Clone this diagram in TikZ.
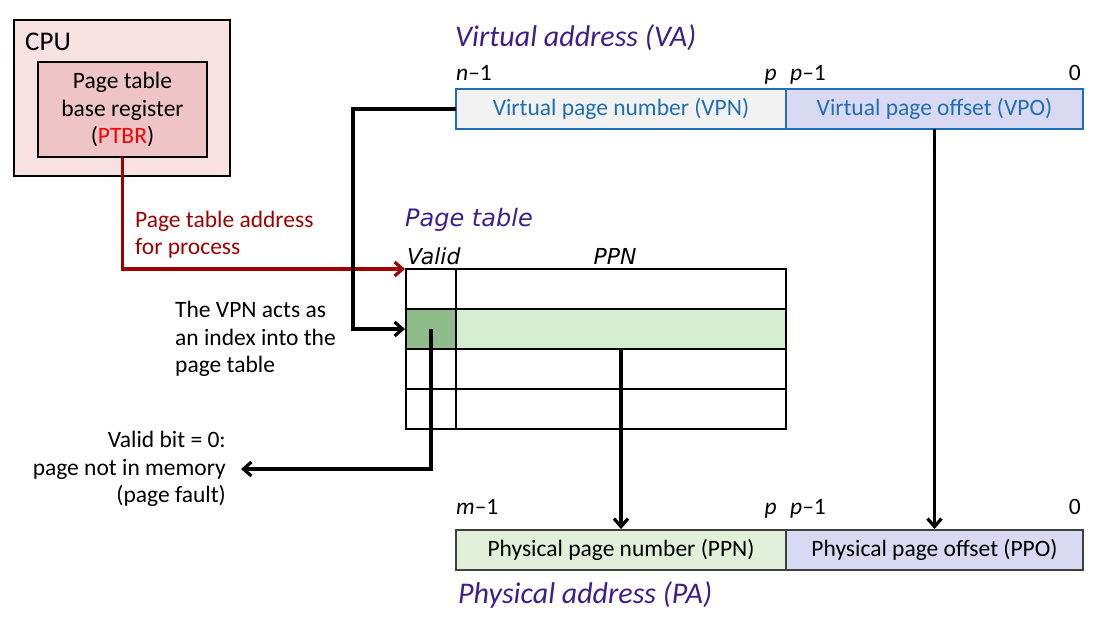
\documentclass[tikz,border=0pt]{standalone}
\usepackage{fontspec}
\setmainfont{Carlito}
\newfontfamily\dvsans{DejaVu Sans}
\usepackage{xcolor}
\usetikzlibrary{arrows.meta}
\usetikzlibrary{positioning}

\definecolor{ttl}{RGB}{60,30,140}
\definecolor{vablue}{RGB}{30,110,185}
\definecolor{addrred}{RGB}{160,0,0}
\definecolor{cpuout}{RGB}{248,225,227}
\definecolor{cpuin}{RGB}{238,196,198}
\definecolor{vpngray}{RGB}{242,242,242}
\definecolor{offlav}{RGB}{217,217,243}
\definecolor{ppngreen}{RGB}{226,240,217}
\definecolor{rowgreen}{RGB}{214,238,208}
\definecolor{validgreen}{RGB}{143,188,139}

\begin{document}
\begin{tikzpicture}[x=1pt,y=-1pt,
  font=\fontsize{23.5}{27.5}\selectfont,
  lbl/.style={inner sep=0pt},
  fld/.style={draw,line width=1.2pt,minimum width=330pt,minimum height=40pt,
    inner sep=0pt,outer sep=0pt},
  cell/.style={draw,line width=1.1pt,minimum height=40pt,inner sep=0pt,outer sep=0pt},
  ttlf/.style={inner sep=0pt,text=ttl,font=\fontsize{30}{34}\selectfont\itshape},
  ptr/.style={line width=3.2pt,shorten >=1pt,-{Straight Barb[length=8pt,width=14pt]}}]
  \useasboundingbox (0,0) rectangle (1110,626);

  % cpu
  \node[draw,line width=1.2pt,fill=cpuout,minimum width=216pt,minimum height=156pt,
    outer sep=0pt,anchor=north west] (cpu) at (14,20) {};
  \node[lbl,anchor=base west,font=\fontsize{27}{30}\selectfont] (cpul) at (25,51) {CPU};
  \node[draw,line width=1.2pt,fill=cpuin,minimum width=169pt,minimum height=95pt,
    align=center,inner sep=0pt,outer sep=0pt,anchor=north west] (ptbr) at (38,62)
    {Page table\\base register\\(\textcolor{red}{PTBR})};

  % virtual address
  \node[ttlf,anchor=base west] (vat) at (455,47) {Virtual address (VA)};
  \node[fld,draw=vablue,fill=vpngray,text=vablue,anchor=north west] (vpn) at (456,89)
    {Virtual page number (VPN)};
  \node[fld,draw=vablue,fill=offlav,text=vablue,minimum width=297pt,anchor=west] (vpo)
    at (vpn.east) {Virtual page offset (VPO)};
  \node[lbl,anchor=base west] (vn) at ([yshift=8pt]vpn.north west) {\textit{n}--1};
  \node[lbl,anchor=base east] (vp) at ([xshift=-9pt,yshift=8pt]vpn.north east) {\textit{p}};
  \node[lbl,anchor=base west] (vp1) at ([xshift=4pt,yshift=8pt]vpo.north west) {\textit{p}--1};
  \node[lbl,anchor=base east] (v0) at ([xshift=-2pt,yshift=8pt]vpo.north east) {0};

  % page table
  \node[lbl,anchor=base west,text=ttl,font=\dvsans\itshape\fontsize{24}{28}\selectfont]
    (ptt) at (405,226) {Page table};
  \foreach \i/\vf/\ef in {1/white/white,2/validgreen/rowgreen,3/white/white,4/white/white}{
    \node[cell,fill=\vf,minimum width=50pt,anchor=north west] (v\i) at (406,229+40*\i) {};
    \node[cell,fill=\ef,minimum width=330pt,anchor=west] (e\i) at (v\i.east) {};
  }
  \node[lbl,anchor=base west,font=\dvsans\itshape\fontsize{22}{26}\selectfont]
    (vh) at ([xshift=1pt,yshift=5pt]v1.north west) {Valid};
  \node[lbl,anchor=base,font=\dvsans\itshape\fontsize{22}{26}\selectfont]
    (ph) at ([xshift=-6pt,yshift=5pt]e1.north) {PPN};

  % physical address
  \node[fld,draw=black!75,fill=ppngreen,anchor=north west] (ppn) at (456,530)
    {Physical page number (PPN)};
  \node[fld,draw=black!75,fill=offlav,minimum width=297pt,anchor=west] (ppo)
    at (ppn.east) {Physical page offset (PPO)};
  \node[lbl,anchor=base west] (pm) at ([yshift=16pt]ppn.north west) {\textit{m}--1};
  \node[lbl,anchor=base east] (pp) at ([xshift=-9pt,yshift=16pt]ppn.north east) {\textit{p}};
  \node[lbl,anchor=base west] (pp1) at ([xshift=4pt,yshift=16pt]ppo.north west) {\textit{p}--1};
  \node[lbl,anchor=base east] (p0) at ([xshift=-2pt,yshift=16pt]ppo.north east) {0};
  \node[ttlf,anchor=base west] (pat) at (458,603) {Physical address (PA)};

  % notes
  \node[lbl,anchor=west,text=addrred,align=left] (adr) at (135,234.5)
    {Page table address\\for process};
  \node[lbl,anchor=west,align=left] (idx) at (175,339)
    {The VPN acts as\\an index into the\\page table};
  \node[inner xsep=14pt,inner ysep=0pt,anchor=east,align=right] (fault) at (240,469)
    {Valid bit = 0:\\page not in memory\\(page fault)};

  % arrows
  \draw[ptr,addrred] (ptbr.south) |- (v1.north west);
  \draw[ptr] (vpn.west) -- ++(-103,0) |- (v2.west);
  \draw[ptr] (vpo.south) -- (ppo.north);
  \draw[ptr] (e2.south) -- (ppn.north);
  \draw[ptr] (v2.center) |- (fault.east);
\end{tikzpicture}
\end{document}
